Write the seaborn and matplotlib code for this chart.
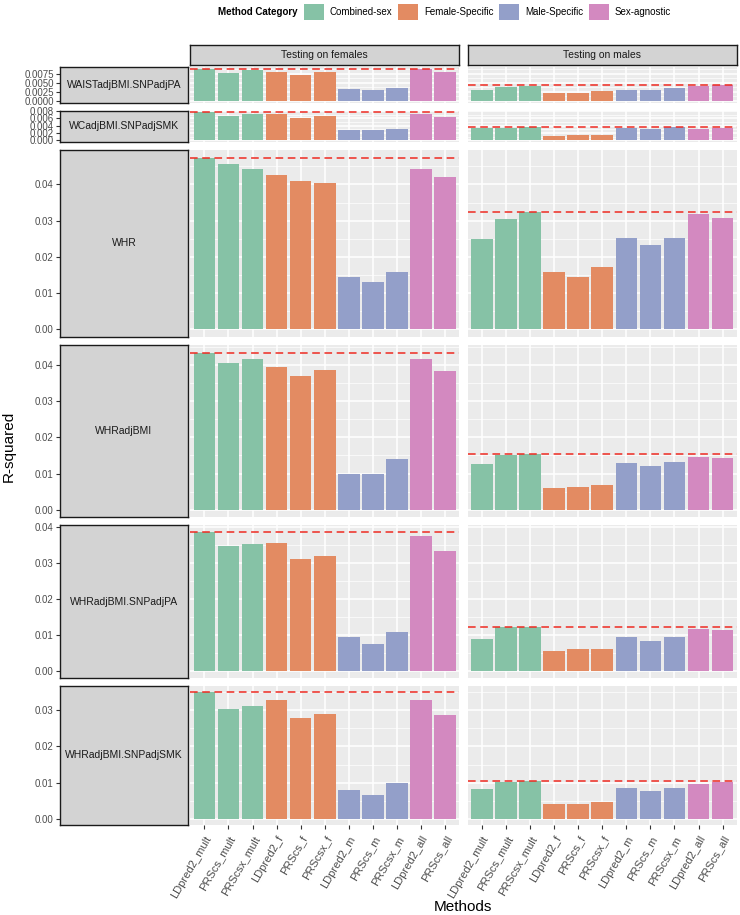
import numpy as np
import pandas as pd
import seaborn as sns
import matplotlib.pyplot as plt
from matplotlib.patches import Patch
from matplotlib.ticker import MultipleLocator, FormatStrFormatter

plt.rcParams['font.family'] = ['Liberation Sans', 'DejaVu Sans']

# methods and their category
methods = ["LDpred2_mult", "PRScs_mult", "PRScsx_mult", "LDpred2_f", "PRScs_f", "PRScsx_f",
           "LDpred2_m", "PRScs_m", "PRScsx_m", "LDpred2_all", "PRScs_all"]
method_cat = ["Combined-sex"] * 3 + ["Female-Specific"] * 3 + ["Male-Specific"] * 3 + ["Sex-agnostic"] * 2
cat_names = ["Combined-sex", "Female-Specific", "Male-Specific", "Sex-agnostic"]
cat_colors = ["#86C2A6", "#E38B62", "#939FC9", "#D389C0"]

traits = ["WAISTadjBMI.SNPadjPA", "WCadjBMI.SNPadjSMK", "WHR", "WHRadjBMI",
          "WHRadjBMI.SNPadjPA", "WHRadjBMI.SNPadjSMK"]
tests = ["Testing on females", "Testing on males"]

# R-squared
waist_f = [0.00895, 0.00785, 0.00847, 0.00812, 0.00715, 0.00812, 0.00327, 0.00291, 0.00353, 0.00882, 0.00812]
waist_m = [0.00309, 0.00388, 0.00424, 0.00229, 0.00221, 0.00265, 0.00309, 0.00291, 0.00353, 0.00424, 0.00450]
wc_f = [0.00780, 0.00671, 0.00726, 0.00717, 0.00625, 0.00680, 0.00294, 0.00267, 0.00313, 0.00736, 0.00644]
wc_m = [0.00349, 0.00349, 0.00372, 0.00120, 0.00156, 0.00156, 0.00331, 0.00322, 0.00359, 0.00313, 0.00331]
whr_f = [0.0473, 0.0457, 0.0443, 0.0427, 0.0409, 0.0403, 0.0145, 0.0129, 0.0158, 0.0443, 0.0422]
whr_m = [0.0248, 0.0305, 0.0323, 0.0157, 0.0143, 0.0172, 0.0252, 0.0231, 0.0252, 0.0319, 0.0308]
whradj_f = [0.0433, 0.0405, 0.0418, 0.0395, 0.0369, 0.0388, 0.0100, 0.0099, 0.0139, 0.0417, 0.0384]
whradj_m = [0.0126, 0.0151, 0.0155, 0.0061, 0.0062, 0.0069, 0.0128, 0.0120, 0.0132, 0.0147, 0.0144]
pa_f = [0.0384, 0.0346, 0.0351, 0.0354, 0.0310, 0.0318, 0.0095, 0.0075, 0.0107, 0.0375, 0.0332]
pa_m = [0.0090, 0.0122, 0.0122, 0.0055, 0.0061, 0.0061, 0.0093, 0.0082, 0.0095, 0.0117, 0.0115]
smk_f = [0.0350, 0.0303, 0.0311, 0.0329, 0.0278, 0.0289, 0.0080, 0.0065, 0.0100, 0.0329, 0.0286]
smk_m = [0.0082, 0.0102, 0.0105, 0.0041, 0.0042, 0.0047, 0.0085, 0.0077, 0.0084, 0.0096, 0.0101]

values = [(waist_f, waist_m), (wc_f, wc_m), (whr_f, whr_m), (whradj_f, whradj_m),
          (pa_f, pa_m), (smk_f, smk_m)]

rows = []
for trait, (vf, vm) in zip(traits, values):
    for test, vals in zip(tests, (vf, vm)):
        for m, c, v in zip(methods, method_cat, vals):
            rows.append(dict(trait=trait, test=test, method=m, category=c, r2=v))
df = pd.DataFrame(rows)

# y tick step / decimals per row
tick_step = [0.0025, 0.002, 0.01, 0.01, 0.01, 0.01]
tick_fmt = ["%.4f", "%.3f", "%.2f", "%.2f", "%.2f", "%.2f"]

W, H = 740, 915
fig = plt.figure(figsize=(W / 100, H / 100), dpi=100)

row_max = [df[df.trait == t].r2.max() for t in traits]
gs = fig.add_gridspec(6, 2, left=190 / W, right=737 / W, top=1 - 67 / H, bottom=1 - 825 / H,
                      height_ratios=[m * 1.1 for m in row_max], hspace=0.067, wspace=0.03)

palette = dict(zip(cat_names, cat_colors))
tick_col = "#4D4D4D"

for i, trait in enumerate(traits):
    rmax = row_max[i]
    first_ax = None
    for j, test in enumerate(tests):
        ax = fig.add_subplot(gs[i, j], sharey=first_ax)
        if first_ax is None:
            first_ax = ax
        sub = df[(df.trait == trait) & (df.test == test)]
        sns.barplot(data=sub, x="method", y="r2", hue="category", order=methods,
                    hue_order=cat_names, palette=palette, dodge=False, width=0.9,
                    saturation=1, legend=False, ax=ax)
        ax.axhline(sub.r2.max(), color="#EE2A22", ls=(0, (5, 3)), lw=1.1)
        ax.set_xlim(-0.6, len(methods) - 0.4)
        ax.set_ylim(-0.05 * rmax, 1.05 * rmax)
        ax.yaxis.set_major_locator(MultipleLocator(tick_step[i]))
        ax.yaxis.set_minor_locator(MultipleLocator(tick_step[i] / 2))
        ax.yaxis.set_major_formatter(FormatStrFormatter(tick_fmt[i]))
        ax.set_facecolor("#EBEBEB")
        ax.set_axisbelow(True)
        ax.grid(which="major", color="white", lw=1.1)
        ax.grid(which="minor", axis="y", color="white", lw=0.5)
        for s in ax.spines.values():
            s.set_visible(False)
        ax.set_xlabel("")
        ax.set_ylabel("")
        ax.tick_params(axis="y", which="both", left=False, labelleft=False)
        if i == len(traits) - 1:
            ax.tick_params(axis="x", length=3, color="#333333", labelsize=8, labelcolor=tick_col)
            for lab in ax.get_xticklabels():
                lab.set_rotation(60)
                lab.set_ha("right")
                lab.set_rotation_mode("anchor")
        else:
            ax.tick_params(axis="x", bottom=False, labelbottom=False)

        if i == 0:
            pos = ax.get_position()
            cs = fig.add_axes([pos.x0, 1 - 65 / H, pos.width, 20 / H])
            cs.set_facecolor("#D3D3D3")
            cs.set_xticks([])
            cs.set_yticks([])
            for s in cs.spines.values():
                s.set_color("#1A1A1A")
                s.set_linewidth(1)
            cs.text(0.5, 0.5, test, ha="center", va="center", fontsize=7.5, color="#1A1A1A",
                    transform=cs.transAxes)

    # row strip on the left, carrying the y axis
    pos = first_ax.get_position()
    st = fig.add_axes([60 / W, pos.y0, 128 / W, pos.height], sharey=first_ax)
    st.set_facecolor("#D3D3D3")
    st.set_xticks([])
    for s in st.spines.values():
        s.set_color("#1A1A1A")
        s.set_linewidth(1)
    st.tick_params(axis="y", which="major", length=3, color="#333333", labelsize=7,
                   labelcolor=tick_col, pad=1.5)
    st.tick_params(axis="y", which="minor", left=False)
    st.text(0.5, 0.5, trait, ha="center", va="center", fontsize=7.5, color="#1A1A1A",
            transform=st.transAxes)

fig.text(9 / W, 1 - 446 / H, "R-squared", rotation=90, ha="center", va="center", fontsize=11)
fig.text(463 / W, 1 - 907 / H, "Methods", ha="center", va="center", fontsize=11)

# legend along the top
fig.text(298 / W, 1 - 12 / H, "Method Category", ha="right", va="center", fontsize=7,
         fontweight="bold")
handles = [Patch(facecolor=c, edgecolor="none", label=n) for n, c in zip(cat_names, cat_colors)]
fig.legend(handles=handles, loc="center left", bbox_to_anchor=(304 / W, 1 - 12 / H), ncol=4,
           frameon=False, fontsize=7, handlelength=2.05, handleheight=2.05, handletextpad=0.6,
           columnspacing=0.6, borderaxespad=0, borderpad=0)

fig.savefig("out.png", dpi=100)
